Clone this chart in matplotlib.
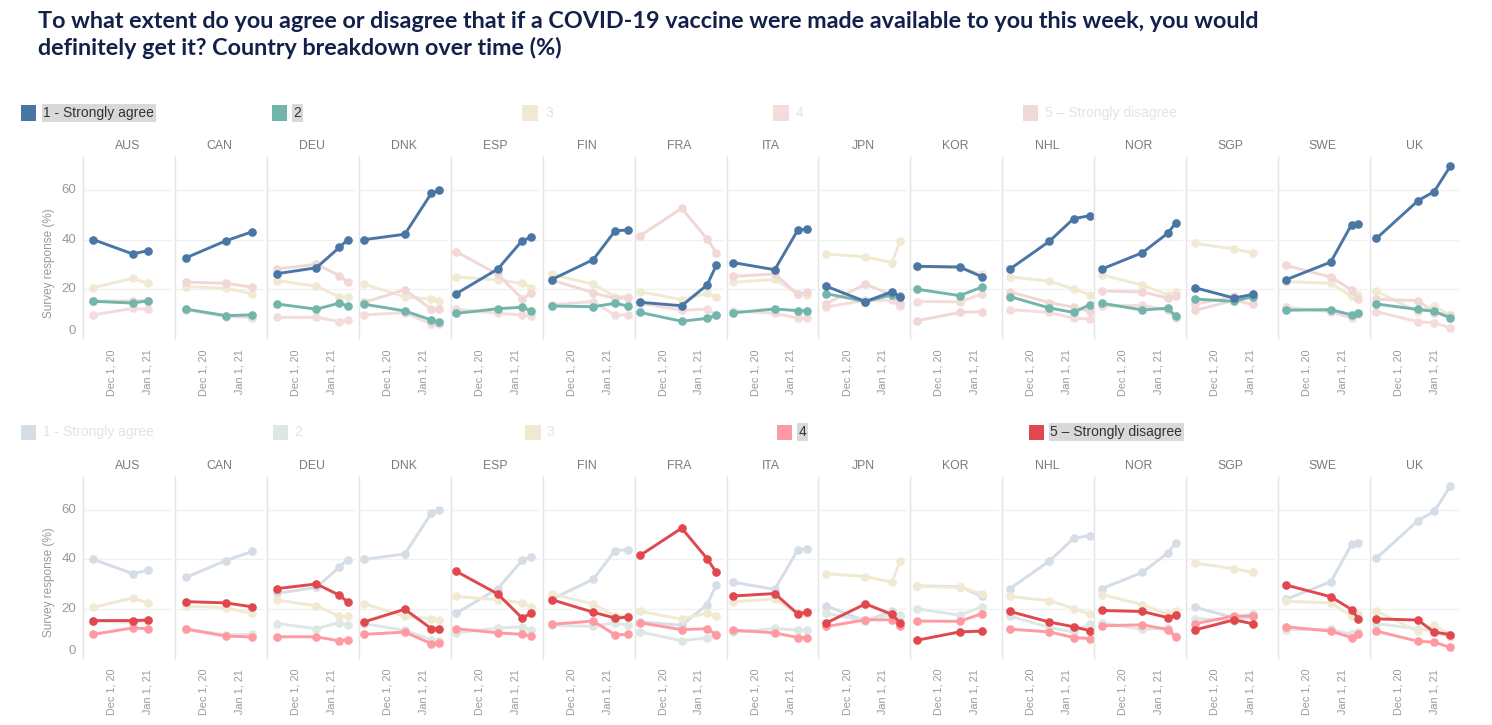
import matplotlib
matplotlib.use("Agg")
import matplotlib.pyplot as plt
import matplotlib.dates as mdates
from matplotlib.patches import Rectangle
from datetime import datetime, timedelta

# ---------------- data ----------------
COUNTRIES = ["AUS", "CAN", "DEU", "DNK", "ESP", "FIN", "FRA", "ITA",
             "JPN", "KOR", "NHL", "NOR", "SGP", "SWE", "UK"]
SERIES_NAMES = ["1 - Strongly agree", "2", "3", "4", "5 \u2013 Strongly disagree"]

DATES = [
    ["2020-11-15", "2020-12-19", "2021-01-01"],
    ["2020-11-16", "2020-12-20", "2021-01-12"],
    ["2020-11-15", "2020-12-19", "2021-01-08", "2021-01-15"],
    ["2020-11-11", "2020-12-16", "2021-01-08", "2021-01-15"],
    ["2020-11-11", "2020-12-17", "2021-01-07", "2021-01-15"],
    ["2020-11-14", "2020-12-20", "2021-01-08", "2021-01-19"],
    ["2020-11-11", "2020-12-17", "2021-01-08", "2021-01-16"],
    ["2020-11-12", "2020-12-18", "2021-01-07", "2021-01-15"],
    ["2020-11-13", "2020-12-17", "2021-01-09", "2021-01-16"],
    ["2020-11-12", "2020-12-19", "2021-01-07"],
    ["2020-11-13", "2020-12-17", "2021-01-07", "2021-01-21"],
    ["2020-11-13", "2020-12-18", "2021-01-09", "2021-01-16"],
    ["2020-11-14", "2020-12-18", "2021-01-03"],
    ["2020-11-13", "2020-12-22", "2021-01-09", "2021-01-15"],
    ["2020-11-12", "2020-12-18", "2021-01-01", "2021-01-15"],
]

S1_AGREE = [
    [40.0, 34.2, 35.5], [32.7, 39.5, 43.2], [26.2, 28.6, 36.9, 39.9],
    [40.0, 42.2, 58.8, 60.1], [18.1, 28.1, 39.6, 40.9], [23.8, 31.9, 43.6, 43.9],
    [14.6, 13.2, 21.6, 29.6], [30.7, 27.8, 43.9, 44.3], [21.1, 14.9, 18.9, 16.8],
    [29.2, 28.9, 25.0], [28.1, 39.3, 48.5, 49.7], [28.1, 34.7, 42.6, 46.8],
    [20.5, 16.3, 17.8], [23.7, 30.9, 46.1, 46.5], [40.5, 55.8, 59.5, 69.8],
]
S2 = [
    [15.0, 14.3, 15.2], [11.8, 9.2, 9.5], [13.9, 11.8, 14.3, 13.1],
    [13.8, 11.1, 7.4, 6.6], [10.1, 12.0, 12.6, 11.1], [13.1, 12.8, 14.2, 13.1],
    [10.5, 6.9, 8.1, 9.5], [10.3, 11.9, 11.2, 11.2], [18.1, 14.9, 17.6, 17.2],
    [19.9, 17.3, 20.7], [16.9, 12.3, 10.5, 13.6], [14.2, 11.5, 12.2, 8.9],
    [15.9, 15.0, 16.9], [11.4, 11.6, 9.5, 10.3], [13.9, 11.7, 10.9, 8.3],
]
S3 = [
    [20.5, 24.3, 22.3], [21.0, 20.3, 18.0], [23.4, 21.1, 16.8, 16.8],
    [21.9, 16.8, 15.9, 15.3], [24.9, 23.6, 22.3, 20.5], [25.9, 21.9, 16.9, 16.9],
    [18.9, 15.7, 18.2, 16.8], [22.7, 23.9, 18.0, 17.6], [34.2, 33.0, 30.7, 39.5],
    [29.0, 28.6, 26.1], [24.9, 23.2, 20.0, 17.7], [25.7, 21.6, 17.6, 18.9],
    [38.5, 36.2, 34.7], [23.0, 22.3, 17.0, 17.6], [19.0, 10.7, 13.1, 9.4],
]
S4 = [
    [9.5, 12.1, 11.8], [11.6, 8.8, 8.4], [8.5, 8.5, 6.8, 7.3],
    [9.5, 10.4, 5.7, 5.8], [11.8, 10.1, 9.5, 8.9], [13.6, 14.9, 9.3, 9.5],
    [14.2, 11.4, 11.8, 9.3], [11.2, 10.1, 8.2, 8.1], [12.7, 15.4, 15.4, 13.0],
    [14.9, 14.8, 17.9], [11.6, 10.5, 8.2, 7.8], [13.0, 13.4, 11.4, 8.4],
    [13.8, 17.0, 16.8], [12.6, 10.8, 8.2, 9.7], [10.8, 6.7, 6.3, 4.2],
]
S5_DISAGREE = [
    [15.1, 15.1, 15.3], [22.8, 22.3, 20.7], [28.1, 30.0, 25.4, 22.7],
    [14.6, 19.7, 11.8, 11.8], [35.1, 25.9, 16.1, 18.2], [23.6, 18.5, 16.1, 16.5],
    [41.6, 52.7, 40.3, 34.7], [25.1, 26.1, 17.8, 18.6], [14.1, 21.9, 17.6, 14.2],
    [7.1, 10.5, 10.8], [18.8, 14.5, 12.6, 11.0], [19.2, 18.8, 16.3, 17.3],
    [11.3, 15.4, 13.8], [29.6, 24.8, 19.6, 15.8], [15.8, 15.3, 10.4, 9.4],
]
ALL_SERIES = [S1_AGREE, S2, S3, S4, S5_DISAGREE]

TITLE_1 = ("To what extent do you agree or disagree that if a COVID-19 vaccine "
           "were made available to you this week, you would")
TITLE_2 = "definitely get it? Country breakdown over time (%)"
Y_TICKS = [0, 20, 40, 60]

# ---------------- style ----------------
W, H = 1492, 725
fig = plt.figure(figsize=(W / 100, H / 100), dpi=100)
FONT = "Liberation Sans"

TOP_COLORS = ["#4a76a6", "#72b5ab", "#f1ead3", "#f5dcdc", "#f2d7d7"]
TOP_ACTIVE = [True, True, False, False, False]
BOT_COLORS = ["#d5dde6", "#dde7e4", "#f1ead3", "#ff9aa3", "#e0484e"]
BOT_ACTIVE = [False, False, False, True, True]
TOP_ORDER = [2, 3, 4, 1, 0]
BOT_ORDER = [0, 1, 2, 3, 4]

YMAX = 73.5
X0 = mdates.date2num(datetime(2020, 12, 1) - timedelta(days=24.7))
X1 = mdates.date2num(datetime(2020, 12, 1) + timedelta(days=52.4))
TICK_DATES = [datetime(2020, 12, 1), datetime(2021, 1, 1)]
TICK_LABELS = ["Dec 1, 20", "Jan 1, 21"]

FACET_LEFT = 83.3
FACET_STEP = 91.9
FACET_W = 89.0


def fig_x(px):
    return px / W


def fig_y(py):
    return 1 - py / H


def draw_legend(y_center, colors, active, xs_sq, xs_lbl):
    for i, name in enumerate(SERIES_NAMES):
        sq = Rectangle((fig_x(xs_sq[i]), fig_y(y_center + 7.5)), 15.5 / W, 15 / H,
                       transform=fig.transFigure, facecolor=colors[i],
                       edgecolor="none")
        fig.patches.append(sq)
        if active[i]:
            fig.text(fig_x(xs_lbl[i]), fig_y(y_center), name, fontsize=10,
                     family=FONT, color="#333333", va="center", ha="left",
                     bbox=dict(boxstyle="square,pad=0.12", facecolor="#d9d9d9",
                               edgecolor="none"))
        else:
            fig.text(fig_x(xs_lbl[i]), fig_y(y_center), name, fontsize=10,
                     family=FONT, color="#e3e3e3", va="center", ha="left")


def draw_panel(y_top, y_bot, colors, active, order):
    for k, c in enumerate(COUNTRIES):
        left = FACET_LEFT + FACET_STEP * k
        ax = fig.add_axes([fig_x(left), fig_y(y_bot), FACET_W / W, (y_bot - y_top) / H])
        ax.set_xlim(X0, X1)
        ax.set_ylim(0, YMAX)
        for s in ["top", "right", "bottom"]:
            ax.spines[s].set_visible(False)
        ax.spines["left"].set_color("#e4e4e4")
        ax.spines["left"].set_linewidth(1.0)
        ax.set_yticks([20, 40, 60])
        ax.yaxis.grid(True, color="#f0f0f0", linewidth=1.0)
        ax.set_axisbelow(True)
        ax.tick_params(axis="y", length=0, labelleft=False)
        ax.set_xticks([mdates.date2num(d) for d in TICK_DATES])
        ax.set_xticklabels(TICK_LABELS, rotation=90, fontsize=7.8, family=FONT,
                           color="#9a9a9a")
        ax.tick_params(axis="x", length=0, pad=8)
        xs = [mdates.date2num(datetime.strptime(d, "%Y-%m-%d")) for d in DATES[k]]
        for si in order:
            vals = ALL_SERIES[si][k]
            ax.plot(xs, vals, color=colors[si], lw=2.1, marker="o", ms=5.2,
                    solid_capstyle="round", zorder=3 if active[si] else 2,
                    clip_on=False)
        # facet title at fixed pixel y
        fig.text(fig_x(left + FACET_W / 2), fig_y(y_top - 11), c, fontsize=8.8,
                 family=FONT, color="#7a7a7a", ha="center", va="center")
    for v in Y_TICKS:
        py = y_bot - v * (y_bot - y_top) / YMAX
        if v == 0:
            py -= 7
        fig.text(fig_x(76), fig_y(py), str(v), fontsize=9.5, family=FONT,
                 color="#999999", ha="right", va="center")
    fig.text(fig_x(49), fig_y((y_top + y_bot) / 2 + 15), "Survey response (%)",
             rotation=90, fontsize=8.5, family=FONT, color="#999999",
             ha="center", va="center")


# title
t1 = fig.text(fig_x(38.3), fig_y(27.5), TITLE_1, fontsize=16, family="Lato",
              fontweight="bold", color="#13204a", va="baseline", ha="left")
fig.canvas.draw()
w = t1.get_window_extent().width
fs = 16 * 1225 / w
t1.set_fontsize(fs)
fig.text(fig_x(38.3), fig_y(55), TITLE_2, fontsize=fs, family="Lato",
         fontweight="bold", color="#13204a", va="baseline", ha="left")

draw_legend(113, TOP_COLORS, TOP_ACTIVE,
            [20.8, 271.7, 522.3, 773.3, 1023.0],
            [43.3, 293.3, 545.0, 795.7, 1045.0])
draw_legend(432, BOT_COLORS, BOT_ACTIVE,
            [20.8, 272.7, 525.0, 776.7, 1028.5],
            [43.3, 294.5, 546.7, 799.0, 1050.5])

draw_panel(157.0, 338.3, TOP_COLORS, TOP_ACTIVE, TOP_ORDER)
draw_panel(477.0, 657.7, BOT_COLORS, BOT_ACTIVE, BOT_ORDER)

fig.savefig("out.png", dpi=100, facecolor="white")
